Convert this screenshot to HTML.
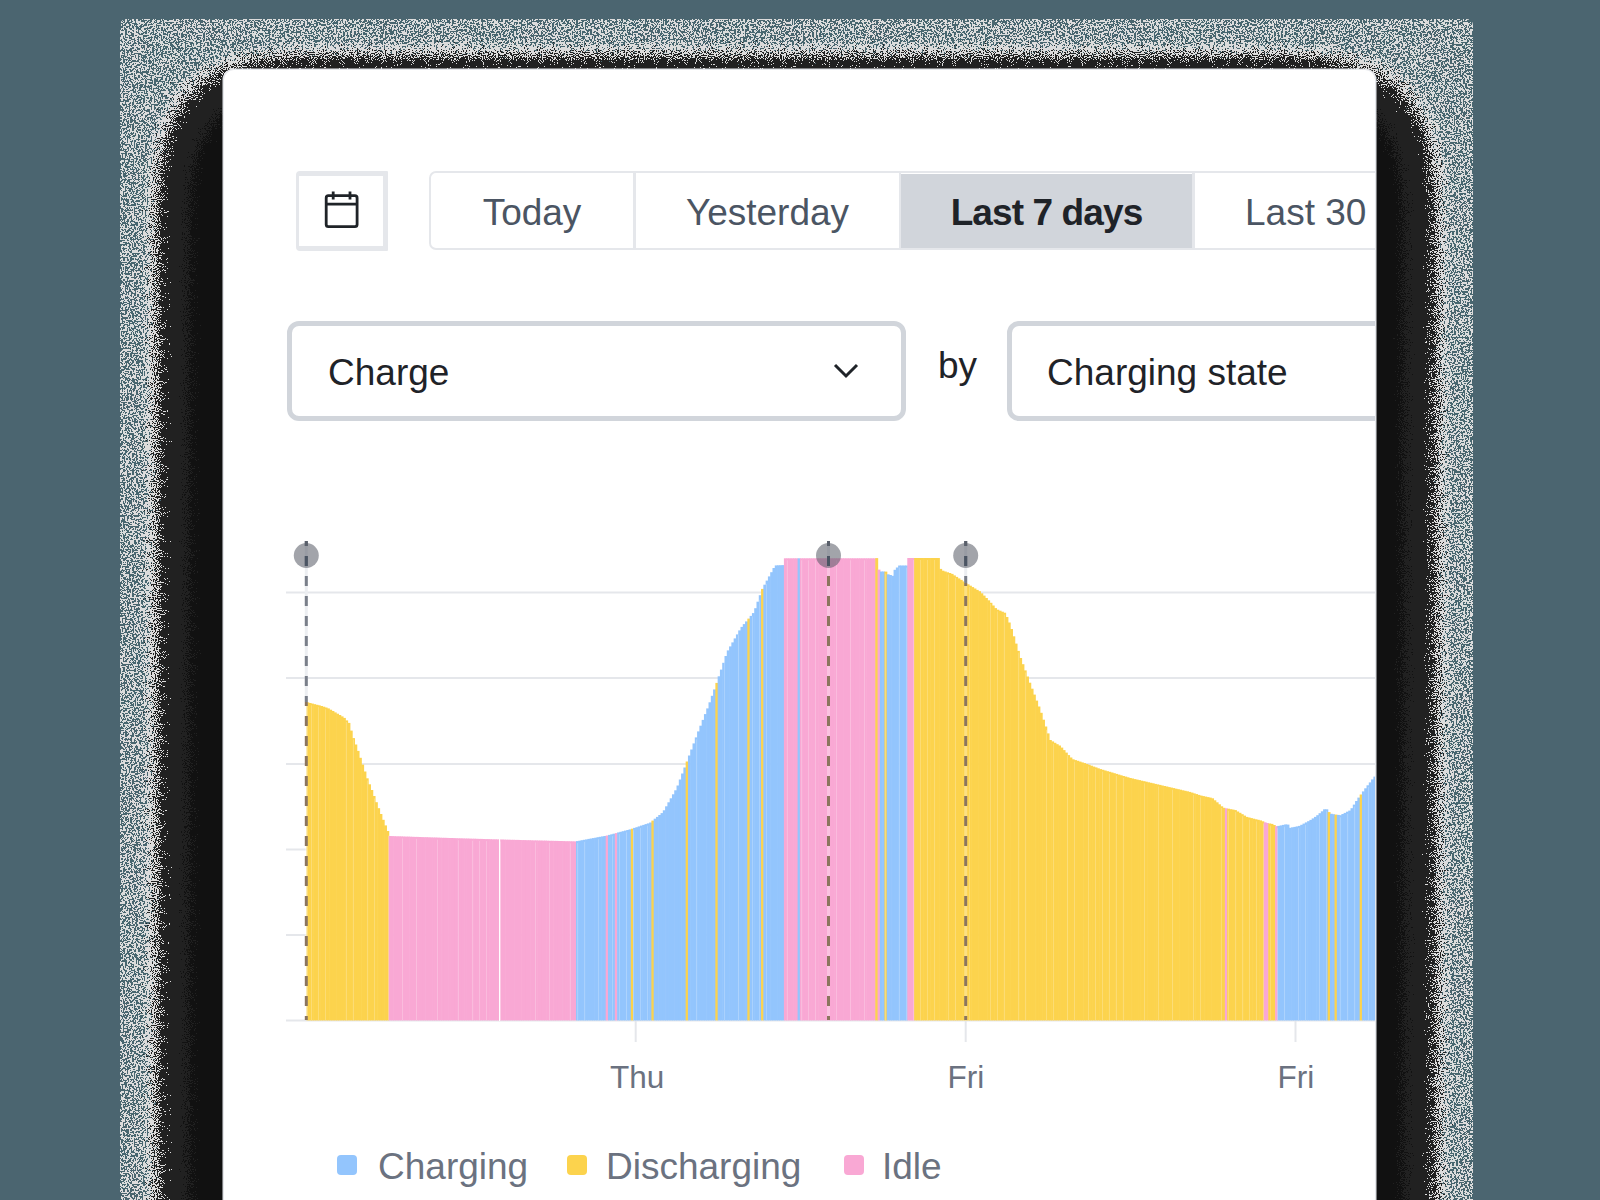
<!DOCTYPE html>
<html><head><meta charset="utf-8">
<style>
html,body{margin:0;padding:0}
body{width:1600px;height:1200px;overflow:hidden;background:#4b6570;position:relative;font-family:"Liberation Sans",sans-serif}
.abs{position:absolute}
#noise{left:120px;top:19px;width:1353px;height:1181px;border-radius:6px 6px 0 0;background:#48666f;overflow:hidden}
#card{left:224px;top:70px;width:1151px;height:1200px;background:#fff;border-radius:10px;overflow:hidden;box-shadow:0 0 0 1.5px #e5e7eb}
#inner{position:absolute;left:-224px;top:-70px;width:1600px;height:1200px}
#cal{left:296px;top:171px;width:84px;height:70px;border-style:solid;border-color:#e5e7eb;border-width:5px 5px 5px 3px;border-radius:4px 1px 1px 4px;background:#fff}
#seg{left:429px;top:171px;width:1000px;height:75px;border:2.5px solid #e5e7eb;border-radius:7px;background:#fff}
.tab{top:173.5px;height:78px;line-height:78px;font-size:37px;color:#4b5563;text-align:center}
.div{top:173px;width:2.5px;height:76px;background:#e5e7eb}
#sel{left:901px;top:174px;width:291px;height:74px;background:#d1d5db}
.select{top:321px;height:90px;border:5px solid #d1d5db;border-radius:12px;background:#fff}
.big{font-size:37px;color:#1f2328}
.grid{left:286px;width:1100px;height:2px;background:#e5e7eb}
.tick{width:2px;height:21px;top:1021px;background:#e5e7eb}
.xl{top:1059px;font-size:31.5px;color:#6b7280}
.leg{top:1146px;font-size:37px;color:#6b7280}
.sw{top:1155px;width:20px;height:20px;border-radius:4px}
</style></head><body>
<div id="noise" class="abs"><svg class="abs" style="left:0;top:0" width="1353" height="1181">
<defs>
<filter id="fs" x="0" y="0" width="1353" height="1181" filterUnits="userSpaceOnUse" color-interpolation-filters="sRGB">
<feGaussianBlur in="SourceAlpha" stdDeviation="60" result="b"/>
<feColorMatrix in="b" type="matrix" values="0 0 0 1 0  0 0 0 1 0  0 0 0 1 0  0 0 0 0 1" result="bg"/>
<feComponentTransfer in="bg" result="glowf"><feFuncR type="linear" slope="2.2" intercept="-0.66"/><feFuncG type="linear" slope="2.2" intercept="-0.66"/><feFuncB type="linear" slope="2.2" intercept="-0.66"/></feComponentTransfer>
<feTurbulence type="fractalNoise" baseFrequency="0.55" numOctaves="2" seed="4" result="t1"/>
<feColorMatrix in="t1" type="matrix" values="1 0 0 0 0  1 0 0 0 0  1 0 0 0 0  0 0 0 0 1" result="t1g"/>
<feComposite in="t1g" in2="glowf" operator="arithmetic" k1="0" k2="1" k3="1" k4="0"/>
<feColorMatrix type="matrix" values="0 0 0 0 0.863  0 0 0 0 0.863  0 0 0 0 0.863  1 0 0 0 0"/>
<feComponentTransfer result="gray"><feFuncA type="discrete" tableValues="0 0 0 0 0 0 0 0 0 0 0 0 0 0 0 0 0 0 0 0 0 0 0 0 0 0 0 0 0 0 0 0 0 0 0 0 0 0 0 0 0 0 0 0 0 0 0 0 0 0 0 0 0 0 0 0 0 0 0 0 0 0 0 0 0 0 0 0 0 0 0 0 0 0 0 0 0 0 0 0 0 0 0 0 0 0 0 0 0 0 0 0 0 0 0 0 0 0 0 0 1 1 1 1 1 1 1 1 1 1 1 1 1 1 1 1 1 1 1 1 1 1 1 1 1 1 1 1 1 1 1 1 1 1 1 1 1 1 1 1 1 1 1 1 1 1 1 1 1 1 1 1 1 1 1 1 1 1 1 1 1 1 1 1 1 1 1 1 1 1 1 1 1 1 1 1 1 1 1 1 1 1 1 1 1 1 1 1 1 1 1 1 1 1 1 1 1 1 1 1"/></feComponentTransfer>
<feTurbulence type="fractalNoise" baseFrequency="0.93" numOctaves="1" seed="11" result="t2"/>
<feColorMatrix in="t2" type="matrix" values="1 0 0 0 0  1 0 0 0 0  1 0 0 0 0  0 0 0 0 1" result="tg"/>
<feComposite in="bg" in2="tg" operator="arithmetic" k1="0" k2="1" k3="0.27" k4="-0.135"/>
<feColorMatrix type="matrix" values="1 0 0 0 0  1 0 0 0 0  1 0 0 0 0  0 0 0 0 1"/>
<feComponentTransfer result="col">
<feFuncR type="discrete" tableValues="0.133 0.133 0.133 0.133 0.133 0.133 0.133 0.133 0.133 0.133 0.133 0.133 0.133 0.133 0.133 0.133 0.133 0.133 0.133 0.133 0.133 0.133 0.133 0.133 0.133 0.133 0.133 0.133 0.133 0.133 0.133 0.133 0.133 0.133 0.133 0.133 0.133 0.133 0.133 0.133 0.133 0.133 0.133 0.133 0.133 0.133 0.133 0.133 0.133 0.133 0.133 0.133 0.133 0.133 0.133 0.133 0.133 0.133 0.133 0.133 0.133 0.133 0.133 0.133 0.133 0.133 0.133 0.133 0.133 0.133 0.133 0.133 0.133 0.133 0.133 0.133 0.133 0.133 0.133 0.133 0.133 0.133 0.133 0.133 0.133 0.133 0.133 0.133 0.133 0.133 0.133 0.133 0.133 0.133 0.133 0.133 0.133 0.133 0.133 0.133 0.133 0.133 0.133 0.133 0.133 0.133 0.133 0.133 0.133 0.133 0.133 0.133 0.133 0.133 0.133 0.133 0.133 0.133 0.133 0.133 0.133 0.067 0.067 0.067 0.067 0.067 0.067 0.067 0.067 0.067 0.067 0.067 0.067 0.067 0.067 0.067 0.067 0.067 0.067 0.067 0.067 0.067 0.067 0.067 0.067 0.067 0.067 0.067 0.067 0.067 0.067 0.067 0.067 0.067 0.067 0.067 0.067 0.067 0.067 0.067 0.067 0.067 0.067 0.067 0.067 0.067 0.067 0.067 0.067 0.067 0.067 0.067 0.067 0.067 0.067 0.067 0.067 0.067 0.067 0.067 0.067 0.067 0.067 0.067 0.067 0.067 0.067 0.067 0.067 0.067 0.067 0.067 0.067 0.067 0.067 0.067 0.067 0.067 0.067 0.067"/>
<feFuncG type="discrete" tableValues="0.133 0.133 0.133 0.133 0.133 0.133 0.133 0.133 0.133 0.133 0.133 0.133 0.133 0.133 0.133 0.133 0.133 0.133 0.133 0.133 0.133 0.133 0.133 0.133 0.133 0.133 0.133 0.133 0.133 0.133 0.133 0.133 0.133 0.133 0.133 0.133 0.133 0.133 0.133 0.133 0.133 0.133 0.133 0.133 0.133 0.133 0.133 0.133 0.133 0.133 0.133 0.133 0.133 0.133 0.133 0.133 0.133 0.133 0.133 0.133 0.133 0.133 0.133 0.133 0.133 0.133 0.133 0.133 0.133 0.133 0.133 0.133 0.133 0.133 0.133 0.133 0.133 0.133 0.133 0.133 0.133 0.133 0.133 0.133 0.133 0.133 0.133 0.133 0.133 0.133 0.133 0.133 0.133 0.133 0.133 0.133 0.133 0.133 0.133 0.133 0.133 0.133 0.133 0.133 0.133 0.133 0.133 0.133 0.133 0.133 0.133 0.133 0.133 0.133 0.133 0.133 0.133 0.133 0.133 0.133 0.133 0.067 0.067 0.067 0.067 0.067 0.067 0.067 0.067 0.067 0.067 0.067 0.067 0.067 0.067 0.067 0.067 0.067 0.067 0.067 0.067 0.067 0.067 0.067 0.067 0.067 0.067 0.067 0.067 0.067 0.067 0.067 0.067 0.067 0.067 0.067 0.067 0.067 0.067 0.067 0.067 0.067 0.067 0.067 0.067 0.067 0.067 0.067 0.067 0.067 0.067 0.067 0.067 0.067 0.067 0.067 0.067 0.067 0.067 0.067 0.067 0.067 0.067 0.067 0.067 0.067 0.067 0.067 0.067 0.067 0.067 0.067 0.067 0.067 0.067 0.067 0.067 0.067 0.067 0.067"/>
<feFuncB type="discrete" tableValues="0.133 0.133 0.133 0.133 0.133 0.133 0.133 0.133 0.133 0.133 0.133 0.133 0.133 0.133 0.133 0.133 0.133 0.133 0.133 0.133 0.133 0.133 0.133 0.133 0.133 0.133 0.133 0.133 0.133 0.133 0.133 0.133 0.133 0.133 0.133 0.133 0.133 0.133 0.133 0.133 0.133 0.133 0.133 0.133 0.133 0.133 0.133 0.133 0.133 0.133 0.133 0.133 0.133 0.133 0.133 0.133 0.133 0.133 0.133 0.133 0.133 0.133 0.133 0.133 0.133 0.133 0.133 0.133 0.133 0.133 0.133 0.133 0.133 0.133 0.133 0.133 0.133 0.133 0.133 0.133 0.133 0.133 0.133 0.133 0.133 0.133 0.133 0.133 0.133 0.133 0.133 0.133 0.133 0.133 0.133 0.133 0.133 0.133 0.133 0.133 0.133 0.133 0.133 0.133 0.133 0.133 0.133 0.133 0.133 0.133 0.133 0.133 0.133 0.133 0.133 0.133 0.133 0.133 0.133 0.133 0.133 0.067 0.067 0.067 0.067 0.067 0.067 0.067 0.067 0.067 0.067 0.067 0.067 0.067 0.067 0.067 0.067 0.067 0.067 0.067 0.067 0.067 0.067 0.067 0.067 0.067 0.067 0.067 0.067 0.067 0.067 0.067 0.067 0.067 0.067 0.067 0.067 0.067 0.067 0.067 0.067 0.067 0.067 0.067 0.067 0.067 0.067 0.067 0.067 0.067 0.067 0.067 0.067 0.067 0.067 0.067 0.067 0.067 0.067 0.067 0.067 0.067 0.067 0.067 0.067 0.067 0.067 0.067 0.067 0.067 0.067 0.067 0.067 0.067 0.067 0.067 0.067 0.067 0.067 0.067"/>
</feComponentTransfer>
<feComposite in="bg" in2="tg" operator="arithmetic" k1="0" k2="1" k3="0.36" k4="-0.18"/>
<feColorMatrix type="matrix" values="0 0 0 0 0  0 0 0 0 0  0 0 0 0 0  1 0 0 0 0"/>
<feComponentTransfer result="msk">
<feFuncA type="discrete" tableValues="0 0 0 0 0 0 0 0 0 0 0 0 0 0 0 0 0 0 0 0 0 0 0 0 0 0 0 0 0 0 0 0 0 0 0 0 0 0 0 0 0 0 0 0 0 0 0 0 0 0 0 0 0 0 0 0 0 0 0 0 0 0 0 0 0 0 0 0 0 0 0 0 0 0 0 0 0 0 0 1 1 1 1 1 1 1 1 1 1 1 1 1 1 1 1 1 1 1 1 1 1 1 1 1 1 1 1 1 1 1 1 1 1 1 1 1 1 1 1 1 1 1 1 1 1 1 1 1 1 1 1 1 1 1 1 1 1 1 1 1 1 1 1 1 1 1 1 1 1 1 1 1 1 1 1 1 1 1 1 1 1 1 1 1 1 1 1 1 1 1 1 1 1 1 1 1 1 1 1 1 1 1 1 1 1 1 1 1 1 1 1 1 1 1 1 1 1 1 1 1"/>
</feComponentTransfer>
<feComposite in="col" in2="msk" operator="in" result="shad"/>
<feMerge><feMergeNode in="gray"/><feMergeNode in="shad"/></feMerge>
</filter>
</defs>
<g filter="url(#fs)"><rect x="53" y="53" width="1247" height="2000" fill="#000"/></g>
</svg></div>
<div id="card" class="abs"><div id="inner">
  <div id="cal" class="abs">
    
  </div>
  <div id="seg" class="abs"></div>
  <div id="sel" class="abs"></div>
  <div class="abs div" style="left:633px"></div>
  <div class="abs div" style="left:1192px"></div>
  <div class="abs div" style="left:898.5px"></div>
  <div class="abs tab" style="left:431px;width:202px">Today</div>
  <div class="abs tab" style="left:635px;width:265px">Yesterday</div>
  <div class="abs tab" style="left:900px;width:293px;font-weight:bold;color:#1f2328;letter-spacing:-0.9px">Last 7 days</div>
  <div class="abs tab" style="left:1245px;text-align:left">Last 30</div>

  <div class="abs select" style="left:287px;width:609px"></div>
  <div class="abs big" style="left:328px;top:351.5px">Charge</div>
  <svg class="abs" style="left:830px;top:360px" width="32" height="22" viewBox="0 0 32 22">
    <polyline points="5,5 16,16 27,5" fill="none" stroke="#1f2328" stroke-width="3"/>
  </svg>
  <div class="abs big" style="left:938px;top:345px">by</div>
  <div class="abs select" style="left:1007px;width:500px"></div>
  <div class="abs big" style="left:1047px;top:351.5px">Charging state</div>

  <svg class="abs" style="left:0;top:0" width="1600" height="1200">
    <g fill="#e5e7eb">
      <rect x="286" y="591.5" width="1100" height="2"/>
      <rect x="286" y="677" width="1100" height="2"/>
      <rect x="286" y="763" width="1100" height="2"/>
      <rect x="286" y="848.5" width="1100" height="2"/>
      <rect x="286" y="934" width="1100" height="2"/>
      <rect x="286" y="1019.5" width="1100" height="2"/>
      <rect x="634.7" y="1021" width="2" height="21"/>
      <rect x="964.7" y="1021" width="2" height="21"/>
      <rect x="1294.5" y="1021" width="2" height="21"/>
    </g>
    <g fill="none" stroke="#1f2328" stroke-width="2.8">
      <rect x="326.2" y="195.7" width="30.9" height="30.9" rx="2.2"/>
      <line x1="326" y1="204.2" x2="357" y2="204.2"/>
      <line x1="333.2" y1="191.5" x2="333.2" y2="199.5"/>
      <line x1="350" y1="191.5" x2="350" y2="199.5"/>
    </g>
    <g>
<rect x="306.40" y="702.4" width="2.885" height="318.0" fill="#fcd34d"/>
<rect x="308.68" y="703.0" width="2.885" height="317.4" fill="#fcd34d"/>
<rect x="310.97" y="703.6" width="2.885" height="316.8" fill="#fcd34d"/>
<rect x="313.25" y="704.2" width="2.885" height="316.2" fill="#fcd34d"/>
<rect x="315.54" y="704.8" width="2.885" height="315.6" fill="#fcd34d"/>
<rect x="317.82" y="705.3" width="2.885" height="315.1" fill="#fcd34d"/>
<rect x="320.11" y="706.0" width="2.885" height="314.4" fill="#fcd34d"/>
<rect x="322.39" y="706.7" width="2.885" height="313.7" fill="#fcd34d"/>
<rect x="324.68" y="707.5" width="2.885" height="312.9" fill="#fcd34d"/>
<rect x="326.96" y="708.4" width="2.885" height="312.0" fill="#fcd34d"/>
<rect x="329.25" y="709.7" width="2.885" height="310.7" fill="#fcd34d"/>
<rect x="331.53" y="711.0" width="2.885" height="309.4" fill="#fcd34d"/>
<rect x="333.82" y="712.4" width="2.885" height="308.0" fill="#fcd34d"/>
<rect x="336.10" y="713.7" width="2.885" height="306.7" fill="#fcd34d"/>
<rect x="338.39" y="715.0" width="2.885" height="305.4" fill="#fcd34d"/>
<rect x="340.67" y="716.4" width="2.885" height="304.0" fill="#fcd34d"/>
<rect x="342.96" y="717.9" width="2.885" height="302.5" fill="#fcd34d"/>
<rect x="345.24" y="720.4" width="2.885" height="300.0" fill="#fcd34d"/>
<rect x="347.52" y="722.9" width="2.885" height="297.5" fill="#fcd34d"/>
<rect x="349.81" y="730.6" width="2.885" height="289.8" fill="#fcd34d"/>
<rect x="352.09" y="738.1" width="2.885" height="282.3" fill="#fcd34d"/>
<rect x="354.38" y="744.5" width="2.885" height="275.9" fill="#fcd34d"/>
<rect x="356.66" y="750.9" width="2.885" height="269.5" fill="#fcd34d"/>
<rect x="358.95" y="757.8" width="2.885" height="262.6" fill="#fcd34d"/>
<rect x="361.23" y="764.6" width="2.885" height="255.8" fill="#fcd34d"/>
<rect x="363.52" y="771.5" width="2.885" height="248.9" fill="#fcd34d"/>
<rect x="365.80" y="778.3" width="2.885" height="242.1" fill="#fcd34d"/>
<rect x="368.09" y="784.3" width="2.885" height="236.1" fill="#fcd34d"/>
<rect x="370.37" y="790.0" width="2.885" height="230.4" fill="#fcd34d"/>
<rect x="372.66" y="796.0" width="2.885" height="224.4" fill="#fcd34d"/>
<rect x="374.94" y="802.2" width="2.885" height="218.2" fill="#fcd34d"/>
<rect x="377.23" y="808.2" width="2.885" height="212.2" fill="#fcd34d"/>
<rect x="379.51" y="814.0" width="2.885" height="206.4" fill="#fcd34d"/>
<rect x="381.80" y="819.8" width="2.885" height="200.6" fill="#fcd34d"/>
<rect x="384.08" y="825.4" width="2.885" height="195.0" fill="#fcd34d"/>
<rect x="386.37" y="831.0" width="2.885" height="189.4" fill="#fcd34d"/>
<rect x="388.65" y="836.0" width="2.885" height="184.4" fill="#f9a8d4"/>
<rect x="390.93" y="836.1" width="2.885" height="184.3" fill="#f9a8d4"/>
<rect x="393.22" y="836.2" width="2.885" height="184.2" fill="#f9a8d4"/>
<rect x="395.50" y="836.3" width="2.885" height="184.1" fill="#f9a8d4"/>
<rect x="397.79" y="836.3" width="2.885" height="184.1" fill="#f9a8d4"/>
<rect x="400.07" y="836.4" width="2.885" height="184.0" fill="#f9a8d4"/>
<rect x="402.36" y="836.5" width="2.885" height="183.9" fill="#f9a8d4"/>
<rect x="404.64" y="836.6" width="2.885" height="183.8" fill="#f9a8d4"/>
<rect x="406.93" y="836.6" width="2.885" height="183.8" fill="#f9a8d4"/>
<rect x="409.21" y="836.7" width="2.885" height="183.7" fill="#f9a8d4"/>
<rect x="411.50" y="836.8" width="2.885" height="183.6" fill="#f9a8d4"/>
<rect x="413.78" y="836.9" width="2.885" height="183.5" fill="#f9a8d4"/>
<rect x="416.07" y="836.9" width="2.885" height="183.5" fill="#f9a8d4"/>
<rect x="418.35" y="837.0" width="2.885" height="183.4" fill="#f9a8d4"/>
<rect x="420.64" y="837.1" width="2.885" height="183.3" fill="#f9a8d4"/>
<rect x="422.92" y="837.2" width="2.885" height="183.2" fill="#f9a8d4"/>
<rect x="425.21" y="837.2" width="2.885" height="183.2" fill="#f9a8d4"/>
<rect x="427.49" y="837.3" width="2.885" height="183.1" fill="#f9a8d4"/>
<rect x="429.77" y="837.4" width="2.885" height="183.0" fill="#f9a8d4"/>
<rect x="432.06" y="837.5" width="2.885" height="182.9" fill="#f9a8d4"/>
<rect x="434.34" y="837.5" width="2.885" height="182.9" fill="#f9a8d4"/>
<rect x="436.63" y="837.6" width="2.885" height="182.8" fill="#f9a8d4"/>
<rect x="438.91" y="837.7" width="2.885" height="182.7" fill="#f9a8d4"/>
<rect x="441.20" y="837.8" width="2.885" height="182.6" fill="#f9a8d4"/>
<rect x="443.48" y="837.8" width="2.885" height="182.6" fill="#f9a8d4"/>
<rect x="445.77" y="837.9" width="2.885" height="182.5" fill="#f9a8d4"/>
<rect x="448.05" y="838.0" width="2.885" height="182.4" fill="#f9a8d4"/>
<rect x="450.34" y="838.0" width="2.885" height="182.4" fill="#f9a8d4"/>
<rect x="452.62" y="838.1" width="2.885" height="182.3" fill="#f9a8d4"/>
<rect x="454.91" y="838.2" width="2.885" height="182.2" fill="#f9a8d4"/>
<rect x="457.19" y="838.3" width="2.885" height="182.1" fill="#f9a8d4"/>
<rect x="459.48" y="838.3" width="2.885" height="182.1" fill="#f9a8d4"/>
<rect x="461.76" y="838.4" width="2.885" height="182.0" fill="#f9a8d4"/>
<rect x="464.05" y="838.5" width="2.885" height="181.9" fill="#f9a8d4"/>
<rect x="466.33" y="838.5" width="2.885" height="181.9" fill="#f9a8d4"/>
<rect x="468.62" y="838.6" width="2.885" height="181.8" fill="#f9a8d4"/>
<rect x="470.90" y="838.7" width="2.885" height="181.7" fill="#f9a8d4"/>
<rect x="473.18" y="838.7" width="2.885" height="181.7" fill="#f9a8d4"/>
<rect x="475.47" y="838.8" width="2.885" height="181.6" fill="#f9a8d4"/>
<rect x="477.75" y="838.9" width="2.885" height="181.5" fill="#f9a8d4"/>
<rect x="480.04" y="838.9" width="2.885" height="181.5" fill="#f9a8d4"/>
<rect x="482.32" y="839.0" width="2.885" height="181.4" fill="#f9a8d4"/>
<rect x="484.61" y="839.1" width="2.885" height="181.3" fill="#f9a8d4"/>
<rect x="486.89" y="839.1" width="2.885" height="181.3" fill="#f9a8d4"/>
<rect x="489.18" y="839.2" width="2.885" height="181.2" fill="#f9a8d4"/>
<rect x="491.46" y="839.3" width="2.885" height="181.1" fill="#f9a8d4"/>
<rect x="493.75" y="839.3" width="2.885" height="181.1" fill="#f9a8d4"/>
<rect x="496.03" y="839.4" width="2.885" height="181.0" fill="#f9a8d4"/>
<rect x="498.32" y="839.5" width="2.885" height="180.9" fill="#f9a8d4"/>
<rect x="500.60" y="839.5" width="2.885" height="180.9" fill="#f9a8d4"/>
<rect x="502.89" y="839.6" width="2.885" height="180.8" fill="#f9a8d4"/>
<rect x="505.17" y="839.7" width="2.885" height="180.7" fill="#f9a8d4"/>
<rect x="507.46" y="839.7" width="2.885" height="180.7" fill="#f9a8d4"/>
<rect x="509.74" y="839.8" width="2.885" height="180.6" fill="#f9a8d4"/>
<rect x="512.02" y="839.8" width="2.885" height="180.6" fill="#f9a8d4"/>
<rect x="514.31" y="839.9" width="2.885" height="180.5" fill="#f9a8d4"/>
<rect x="516.59" y="839.9" width="2.885" height="180.5" fill="#f9a8d4"/>
<rect x="518.88" y="840.0" width="2.885" height="180.4" fill="#f9a8d4"/>
<rect x="521.16" y="840.1" width="2.885" height="180.3" fill="#f9a8d4"/>
<rect x="523.45" y="840.1" width="2.885" height="180.3" fill="#f9a8d4"/>
<rect x="525.73" y="840.2" width="2.885" height="180.2" fill="#f9a8d4"/>
<rect x="528.02" y="840.2" width="2.885" height="180.2" fill="#f9a8d4"/>
<rect x="530.30" y="840.3" width="2.885" height="180.1" fill="#f9a8d4"/>
<rect x="532.59" y="840.4" width="2.885" height="180.0" fill="#f9a8d4"/>
<rect x="534.87" y="840.4" width="2.885" height="180.0" fill="#f9a8d4"/>
<rect x="537.16" y="840.5" width="2.885" height="179.9" fill="#f9a8d4"/>
<rect x="539.44" y="840.5" width="2.885" height="179.9" fill="#f9a8d4"/>
<rect x="541.73" y="840.6" width="2.885" height="179.8" fill="#f9a8d4"/>
<rect x="544.01" y="840.6" width="2.885" height="179.8" fill="#f9a8d4"/>
<rect x="546.30" y="840.7" width="2.885" height="179.7" fill="#f9a8d4"/>
<rect x="548.58" y="840.8" width="2.885" height="179.6" fill="#f9a8d4"/>
<rect x="550.87" y="840.8" width="2.885" height="179.6" fill="#f9a8d4"/>
<rect x="553.15" y="840.9" width="2.885" height="179.5" fill="#f9a8d4"/>
<rect x="555.43" y="840.9" width="2.885" height="179.5" fill="#f9a8d4"/>
<rect x="557.72" y="841.0" width="2.885" height="179.4" fill="#f9a8d4"/>
<rect x="560.00" y="841.0" width="2.885" height="179.4" fill="#f9a8d4"/>
<rect x="562.29" y="841.1" width="2.885" height="179.3" fill="#f9a8d4"/>
<rect x="564.57" y="841.2" width="2.885" height="179.2" fill="#f9a8d4"/>
<rect x="566.86" y="841.2" width="2.885" height="179.2" fill="#f9a8d4"/>
<rect x="569.14" y="841.3" width="2.885" height="179.1" fill="#f9a8d4"/>
<rect x="571.43" y="841.3" width="2.885" height="179.1" fill="#f9a8d4"/>
<rect x="573.71" y="841.4" width="2.885" height="179.0" fill="#f9a8d4"/>
<rect x="576.00" y="841.1" width="2.885" height="179.3" fill="#93c5fd"/>
<rect x="578.28" y="840.7" width="2.885" height="179.7" fill="#93c5fd"/>
<rect x="580.57" y="840.2" width="2.885" height="180.2" fill="#93c5fd"/>
<rect x="582.85" y="839.8" width="2.885" height="180.6" fill="#93c5fd"/>
<rect x="585.14" y="839.4" width="2.885" height="181.0" fill="#93c5fd"/>
<rect x="587.42" y="838.9" width="2.885" height="181.5" fill="#93c5fd"/>
<rect x="589.71" y="838.5" width="2.885" height="181.9" fill="#93c5fd"/>
<rect x="591.99" y="838.1" width="2.885" height="182.3" fill="#93c5fd"/>
<rect x="594.27" y="837.7" width="2.885" height="182.7" fill="#93c5fd"/>
<rect x="596.56" y="837.2" width="2.885" height="183.2" fill="#93c5fd"/>
<rect x="598.84" y="836.8" width="2.885" height="183.6" fill="#93c5fd"/>
<rect x="601.13" y="836.4" width="2.885" height="184.0" fill="#93c5fd"/>
<rect x="603.41" y="836.0" width="2.885" height="184.4" fill="#93c5fd"/>
<rect x="605.70" y="835.5" width="2.885" height="184.9" fill="#f9a8d4"/>
<rect x="607.98" y="834.9" width="2.885" height="185.5" fill="#93c5fd"/>
<rect x="610.27" y="834.3" width="2.885" height="186.1" fill="#93c5fd"/>
<rect x="612.55" y="833.7" width="2.885" height="186.7" fill="#93c5fd"/>
<rect x="614.84" y="833.1" width="2.885" height="187.3" fill="#f9a8d4"/>
<rect x="617.12" y="832.4" width="2.885" height="188.0" fill="#93c5fd"/>
<rect x="619.41" y="831.8" width="2.885" height="188.6" fill="#93c5fd"/>
<rect x="621.69" y="831.2" width="2.885" height="189.2" fill="#93c5fd"/>
<rect x="623.98" y="830.6" width="2.885" height="189.8" fill="#93c5fd"/>
<rect x="626.26" y="830.0" width="2.885" height="190.4" fill="#93c5fd"/>
<rect x="628.55" y="829.4" width="2.885" height="191.0" fill="#93c5fd"/>
<rect x="630.83" y="828.7" width="2.885" height="191.7" fill="#fcd34d"/>
<rect x="633.12" y="827.9" width="2.885" height="192.5" fill="#93c5fd"/>
<rect x="635.40" y="827.2" width="2.885" height="193.2" fill="#93c5fd"/>
<rect x="637.68" y="826.4" width="2.885" height="194.0" fill="#93c5fd"/>
<rect x="639.97" y="825.6" width="2.885" height="194.8" fill="#93c5fd"/>
<rect x="642.25" y="824.9" width="2.885" height="195.5" fill="#93c5fd"/>
<rect x="644.54" y="824.1" width="2.885" height="196.3" fill="#93c5fd"/>
<rect x="646.82" y="823.4" width="2.885" height="197.0" fill="#93c5fd"/>
<rect x="649.11" y="822.5" width="2.885" height="197.9" fill="#93c5fd"/>
<rect x="651.39" y="820.6" width="2.885" height="199.8" fill="#fcd34d"/>
<rect x="653.68" y="818.7" width="2.885" height="201.7" fill="#93c5fd"/>
<rect x="655.96" y="816.9" width="2.885" height="203.5" fill="#93c5fd"/>
<rect x="658.25" y="815.0" width="2.885" height="205.4" fill="#93c5fd"/>
<rect x="660.53" y="813.1" width="2.885" height="207.3" fill="#93c5fd"/>
<rect x="662.82" y="810.3" width="2.885" height="210.1" fill="#93c5fd"/>
<rect x="665.10" y="806.3" width="2.885" height="214.1" fill="#93c5fd"/>
<rect x="667.39" y="802.3" width="2.885" height="218.1" fill="#93c5fd"/>
<rect x="669.67" y="798.3" width="2.885" height="222.1" fill="#93c5fd"/>
<rect x="671.96" y="794.3" width="2.885" height="226.1" fill="#93c5fd"/>
<rect x="674.24" y="790.3" width="2.885" height="230.1" fill="#93c5fd"/>
<rect x="676.52" y="785.5" width="2.885" height="234.9" fill="#93c5fd"/>
<rect x="678.81" y="779.5" width="2.885" height="240.9" fill="#93c5fd"/>
<rect x="681.09" y="773.5" width="2.885" height="246.9" fill="#93c5fd"/>
<rect x="683.38" y="767.5" width="2.885" height="252.9" fill="#93c5fd"/>
<rect x="685.66" y="761.5" width="2.885" height="258.9" fill="#fcd34d"/>
<rect x="687.95" y="755.5" width="2.885" height="264.9" fill="#93c5fd"/>
<rect x="690.23" y="749.5" width="2.885" height="270.9" fill="#93c5fd"/>
<rect x="692.52" y="743.4" width="2.885" height="277.0" fill="#93c5fd"/>
<rect x="694.80" y="737.4" width="2.885" height="283.0" fill="#93c5fd"/>
<rect x="697.09" y="731.4" width="2.885" height="289.0" fill="#93c5fd"/>
<rect x="699.37" y="725.7" width="2.885" height="294.7" fill="#93c5fd"/>
<rect x="701.66" y="719.9" width="2.885" height="300.5" fill="#93c5fd"/>
<rect x="703.94" y="714.1" width="2.885" height="306.3" fill="#93c5fd"/>
<rect x="706.23" y="708.4" width="2.885" height="312.0" fill="#93c5fd"/>
<rect x="708.51" y="702.3" width="2.885" height="318.1" fill="#93c5fd"/>
<rect x="710.80" y="695.8" width="2.885" height="324.6" fill="#93c5fd"/>
<rect x="713.08" y="689.4" width="2.885" height="331.0" fill="#93c5fd"/>
<rect x="715.37" y="682.9" width="2.885" height="337.5" fill="#fcd34d"/>
<rect x="717.65" y="676.3" width="2.885" height="344.1" fill="#93c5fd"/>
<rect x="719.93" y="669.6" width="2.885" height="350.8" fill="#93c5fd"/>
<rect x="722.22" y="662.8" width="2.885" height="357.6" fill="#93c5fd"/>
<rect x="724.50" y="656.0" width="2.885" height="364.4" fill="#93c5fd"/>
<rect x="726.79" y="650.4" width="2.885" height="370.0" fill="#93c5fd"/>
<rect x="729.07" y="646.4" width="2.885" height="374.0" fill="#93c5fd"/>
<rect x="731.36" y="642.4" width="2.885" height="378.0" fill="#93c5fd"/>
<rect x="733.64" y="638.4" width="2.885" height="382.0" fill="#93c5fd"/>
<rect x="735.93" y="634.4" width="2.885" height="386.0" fill="#93c5fd"/>
<rect x="738.21" y="630.4" width="2.885" height="390.0" fill="#93c5fd"/>
<rect x="740.50" y="626.9" width="2.885" height="393.5" fill="#93c5fd"/>
<rect x="742.78" y="624.1" width="2.885" height="396.3" fill="#93c5fd"/>
<rect x="745.07" y="621.4" width="2.885" height="399.0" fill="#93c5fd"/>
<rect x="747.35" y="618.6" width="2.885" height="401.8" fill="#fcd34d"/>
<rect x="749.64" y="615.9" width="2.885" height="404.5" fill="#93c5fd"/>
<rect x="751.92" y="613.1" width="2.885" height="407.3" fill="#93c5fd"/>
<rect x="754.21" y="608.2" width="2.885" height="412.2" fill="#93c5fd"/>
<rect x="756.49" y="601.7" width="2.885" height="418.7" fill="#93c5fd"/>
<rect x="758.77" y="595.2" width="2.885" height="425.2" fill="#93c5fd"/>
<rect x="761.06" y="588.9" width="2.885" height="431.5" fill="#fcd34d"/>
<rect x="763.34" y="584.7" width="2.885" height="435.7" fill="#93c5fd"/>
<rect x="765.63" y="580.6" width="2.885" height="439.8" fill="#93c5fd"/>
<rect x="767.91" y="576.4" width="2.885" height="444.0" fill="#93c5fd"/>
<rect x="770.20" y="572.2" width="2.885" height="448.2" fill="#93c5fd"/>
<rect x="772.48" y="568.0" width="2.885" height="452.4" fill="#93c5fd"/>
<rect x="774.77" y="565.4" width="2.885" height="455.0" fill="#93c5fd"/>
<rect x="777.05" y="565.3" width="2.885" height="455.1" fill="#93c5fd"/>
<rect x="779.34" y="565.2" width="2.885" height="455.2" fill="#93c5fd"/>
<rect x="781.62" y="565.1" width="2.885" height="455.3" fill="#93c5fd"/>
<rect x="783.91" y="558.3" width="2.885" height="462.1" fill="#f9a8d4"/>
<rect x="786.19" y="558.3" width="2.885" height="462.1" fill="#f9a8d4"/>
<rect x="788.48" y="558.3" width="2.885" height="462.1" fill="#f9a8d4"/>
<rect x="790.76" y="558.3" width="2.885" height="462.1" fill="#f9a8d4"/>
<rect x="793.05" y="558.3" width="2.885" height="462.1" fill="#f9a8d4"/>
<rect x="795.33" y="558.3" width="2.885" height="462.1" fill="#f9a8d4"/>
<rect x="797.62" y="558.3" width="2.885" height="462.1" fill="#93c5fd"/>
<rect x="799.90" y="558.3" width="2.885" height="462.1" fill="#f9a8d4"/>
<rect x="802.18" y="558.3" width="2.885" height="462.1" fill="#f9a8d4"/>
<rect x="804.47" y="558.3" width="2.885" height="462.1" fill="#f9a8d4"/>
<rect x="806.75" y="558.3" width="2.885" height="462.1" fill="#f9a8d4"/>
<rect x="809.04" y="558.3" width="2.885" height="462.1" fill="#f9a8d4"/>
<rect x="811.32" y="558.3" width="2.885" height="462.1" fill="#f9a8d4"/>
<rect x="813.61" y="558.3" width="2.885" height="462.1" fill="#f9a8d4"/>
<rect x="815.89" y="558.3" width="2.885" height="462.1" fill="#f9a8d4"/>
<rect x="818.18" y="558.3" width="2.885" height="462.1" fill="#f9a8d4"/>
<rect x="820.46" y="558.3" width="2.885" height="462.1" fill="#f9a8d4"/>
<rect x="822.75" y="558.3" width="2.885" height="462.1" fill="#f9a8d4"/>
<rect x="825.03" y="558.3" width="2.885" height="462.1" fill="#f9a8d4"/>
<rect x="827.32" y="558.3" width="2.885" height="462.1" fill="#f9a8d4"/>
<rect x="829.60" y="558.3" width="2.885" height="462.1" fill="#f9a8d4"/>
<rect x="831.89" y="558.3" width="2.885" height="462.1" fill="#f9a8d4"/>
<rect x="834.17" y="558.3" width="2.885" height="462.1" fill="#f9a8d4"/>
<rect x="836.46" y="558.3" width="2.885" height="462.1" fill="#f9a8d4"/>
<rect x="838.74" y="558.3" width="2.885" height="462.1" fill="#f9a8d4"/>
<rect x="841.02" y="558.3" width="2.885" height="462.1" fill="#f9a8d4"/>
<rect x="843.31" y="558.3" width="2.885" height="462.1" fill="#f9a8d4"/>
<rect x="845.59" y="558.3" width="2.885" height="462.1" fill="#f9a8d4"/>
<rect x="847.88" y="558.3" width="2.885" height="462.1" fill="#f9a8d4"/>
<rect x="850.16" y="558.3" width="2.885" height="462.1" fill="#f9a8d4"/>
<rect x="852.45" y="558.3" width="2.885" height="462.1" fill="#f9a8d4"/>
<rect x="854.73" y="558.3" width="2.885" height="462.1" fill="#f9a8d4"/>
<rect x="857.02" y="558.3" width="2.885" height="462.1" fill="#f9a8d4"/>
<rect x="859.30" y="558.3" width="2.885" height="462.1" fill="#f9a8d4"/>
<rect x="861.59" y="558.3" width="2.885" height="462.1" fill="#f9a8d4"/>
<rect x="863.87" y="558.3" width="2.885" height="462.1" fill="#f9a8d4"/>
<rect x="866.16" y="558.3" width="2.885" height="462.1" fill="#f9a8d4"/>
<rect x="868.44" y="558.3" width="2.885" height="462.1" fill="#f9a8d4"/>
<rect x="870.73" y="558.3" width="2.885" height="462.1" fill="#f9a8d4"/>
<rect x="873.01" y="558.3" width="2.885" height="462.1" fill="#f9a8d4"/>
<rect x="875.30" y="558.1" width="2.885" height="462.3" fill="#fcd34d"/>
<rect x="877.58" y="569.6" width="2.885" height="450.8" fill="#f9a8d4"/>
<rect x="879.87" y="571.5" width="2.885" height="448.9" fill="#93c5fd"/>
<rect x="882.15" y="571.5" width="2.885" height="448.9" fill="#93c5fd"/>
<rect x="884.43" y="571.6" width="2.885" height="448.8" fill="#fcd34d"/>
<rect x="886.72" y="574.3" width="2.885" height="446.1" fill="#93c5fd"/>
<rect x="889.00" y="575.0" width="2.885" height="445.4" fill="#93c5fd"/>
<rect x="891.29" y="575.8" width="2.885" height="444.6" fill="#93c5fd"/>
<rect x="893.57" y="569.8" width="2.885" height="450.6" fill="#93c5fd"/>
<rect x="895.86" y="567.5" width="2.885" height="452.9" fill="#93c5fd"/>
<rect x="898.14" y="565.5" width="2.885" height="454.9" fill="#93c5fd"/>
<rect x="900.43" y="565.5" width="2.885" height="454.9" fill="#93c5fd"/>
<rect x="902.71" y="565.5" width="2.885" height="454.9" fill="#93c5fd"/>
<rect x="905.00" y="565.5" width="2.885" height="454.9" fill="#93c5fd"/>
<rect x="907.28" y="558.0" width="2.885" height="462.4" fill="#f9a8d4"/>
<rect x="909.57" y="558.0" width="2.885" height="462.4" fill="#f9a8d4"/>
<rect x="911.85" y="558.0" width="2.885" height="462.4" fill="#f9a8d4"/>
<rect x="914.14" y="558.0" width="2.885" height="462.4" fill="#fcd34d"/>
<rect x="916.42" y="558.0" width="2.885" height="462.4" fill="#fcd34d"/>
<rect x="918.71" y="558.0" width="2.885" height="462.4" fill="#fcd34d"/>
<rect x="920.99" y="558.0" width="2.885" height="462.4" fill="#fcd34d"/>
<rect x="923.27" y="558.0" width="2.885" height="462.4" fill="#fcd34d"/>
<rect x="925.56" y="558.0" width="2.885" height="462.4" fill="#fcd34d"/>
<rect x="927.84" y="558.0" width="2.885" height="462.4" fill="#fcd34d"/>
<rect x="930.13" y="558.0" width="2.885" height="462.4" fill="#fcd34d"/>
<rect x="932.41" y="558.0" width="2.885" height="462.4" fill="#fcd34d"/>
<rect x="934.70" y="558.0" width="2.885" height="462.4" fill="#fcd34d"/>
<rect x="936.98" y="558.0" width="2.885" height="462.4" fill="#fcd34d"/>
<rect x="939.27" y="568.9" width="2.885" height="451.5" fill="#fcd34d"/>
<rect x="941.55" y="570.7" width="2.885" height="449.7" fill="#fcd34d"/>
<rect x="943.84" y="571.5" width="2.885" height="448.9" fill="#fcd34d"/>
<rect x="946.12" y="572.3" width="2.885" height="448.1" fill="#fcd34d"/>
<rect x="948.41" y="573.0" width="2.885" height="447.4" fill="#fcd34d"/>
<rect x="950.69" y="573.9" width="2.885" height="446.5" fill="#fcd34d"/>
<rect x="952.98" y="575.4" width="2.885" height="445.0" fill="#fcd34d"/>
<rect x="955.26" y="576.9" width="2.885" height="443.5" fill="#fcd34d"/>
<rect x="957.55" y="578.4" width="2.885" height="442.0" fill="#fcd34d"/>
<rect x="959.83" y="579.9" width="2.885" height="440.5" fill="#fcd34d"/>
<rect x="962.12" y="581.4" width="2.885" height="439.0" fill="#fcd34d"/>
<rect x="964.40" y="582.9" width="2.885" height="437.5" fill="#fcd34d"/>
<rect x="966.68" y="584.3" width="2.885" height="436.1" fill="#fcd34d"/>
<rect x="968.97" y="585.7" width="2.885" height="434.7" fill="#fcd34d"/>
<rect x="971.25" y="587.1" width="2.885" height="433.3" fill="#fcd34d"/>
<rect x="973.54" y="588.5" width="2.885" height="431.9" fill="#fcd34d"/>
<rect x="975.82" y="589.9" width="2.885" height="430.5" fill="#fcd34d"/>
<rect x="978.11" y="591.2" width="2.885" height="429.2" fill="#fcd34d"/>
<rect x="980.39" y="593.3" width="2.885" height="427.1" fill="#fcd34d"/>
<rect x="982.68" y="595.6" width="2.885" height="424.8" fill="#fcd34d"/>
<rect x="984.96" y="598.0" width="2.885" height="422.4" fill="#fcd34d"/>
<rect x="987.25" y="600.3" width="2.885" height="420.1" fill="#fcd34d"/>
<rect x="989.53" y="602.8" width="2.885" height="417.6" fill="#fcd34d"/>
<rect x="991.82" y="605.5" width="2.885" height="414.9" fill="#fcd34d"/>
<rect x="994.10" y="608.1" width="2.885" height="412.3" fill="#fcd34d"/>
<rect x="996.39" y="609.7" width="2.885" height="410.7" fill="#fcd34d"/>
<rect x="998.67" y="610.7" width="2.885" height="409.7" fill="#fcd34d"/>
<rect x="1000.96" y="611.7" width="2.885" height="408.7" fill="#fcd34d"/>
<rect x="1003.24" y="612.7" width="2.885" height="407.7" fill="#fcd34d"/>
<rect x="1005.52" y="617.0" width="2.885" height="403.4" fill="#fcd34d"/>
<rect x="1007.81" y="622.5" width="2.885" height="397.9" fill="#fcd34d"/>
<rect x="1010.09" y="629.0" width="2.885" height="391.4" fill="#fcd34d"/>
<rect x="1012.38" y="636.3" width="2.885" height="384.1" fill="#fcd34d"/>
<rect x="1014.66" y="643.6" width="2.885" height="376.8" fill="#fcd34d"/>
<rect x="1016.95" y="650.9" width="2.885" height="369.5" fill="#fcd34d"/>
<rect x="1019.23" y="658.0" width="2.885" height="362.4" fill="#fcd34d"/>
<rect x="1021.52" y="664.2" width="2.885" height="356.2" fill="#fcd34d"/>
<rect x="1023.80" y="670.4" width="2.885" height="350.0" fill="#fcd34d"/>
<rect x="1026.09" y="676.5" width="2.885" height="343.9" fill="#fcd34d"/>
<rect x="1028.37" y="682.7" width="2.885" height="337.7" fill="#fcd34d"/>
<rect x="1030.66" y="688.7" width="2.885" height="331.7" fill="#fcd34d"/>
<rect x="1032.94" y="694.6" width="2.885" height="325.8" fill="#fcd34d"/>
<rect x="1035.23" y="700.6" width="2.885" height="319.8" fill="#fcd34d"/>
<rect x="1037.51" y="706.5" width="2.885" height="313.9" fill="#fcd34d"/>
<rect x="1039.80" y="712.8" width="2.885" height="307.6" fill="#fcd34d"/>
<rect x="1042.08" y="719.7" width="2.885" height="300.7" fill="#fcd34d"/>
<rect x="1044.37" y="726.5" width="2.885" height="293.9" fill="#fcd34d"/>
<rect x="1046.65" y="733.4" width="2.885" height="287.0" fill="#fcd34d"/>
<rect x="1048.93" y="740.0" width="2.885" height="280.4" fill="#fcd34d"/>
<rect x="1051.22" y="741.4" width="2.885" height="279.0" fill="#fcd34d"/>
<rect x="1053.50" y="742.8" width="2.885" height="277.6" fill="#fcd34d"/>
<rect x="1055.79" y="744.2" width="2.885" height="276.2" fill="#fcd34d"/>
<rect x="1058.07" y="745.5" width="2.885" height="274.9" fill="#fcd34d"/>
<rect x="1060.36" y="747.6" width="2.885" height="272.8" fill="#fcd34d"/>
<rect x="1062.64" y="750.1" width="2.885" height="270.3" fill="#fcd34d"/>
<rect x="1064.93" y="752.6" width="2.885" height="267.8" fill="#fcd34d"/>
<rect x="1067.21" y="755.1" width="2.885" height="265.3" fill="#fcd34d"/>
<rect x="1069.50" y="757.5" width="2.885" height="262.9" fill="#fcd34d"/>
<rect x="1071.78" y="759.3" width="2.885" height="261.1" fill="#fcd34d"/>
<rect x="1074.07" y="760.1" width="2.885" height="260.3" fill="#fcd34d"/>
<rect x="1076.35" y="760.8" width="2.885" height="259.6" fill="#fcd34d"/>
<rect x="1078.64" y="761.6" width="2.885" height="258.8" fill="#fcd34d"/>
<rect x="1080.92" y="762.4" width="2.885" height="258.0" fill="#fcd34d"/>
<rect x="1083.21" y="763.1" width="2.885" height="257.3" fill="#fcd34d"/>
<rect x="1085.49" y="764.0" width="2.885" height="256.4" fill="#fcd34d"/>
<rect x="1087.78" y="764.8" width="2.885" height="255.6" fill="#fcd34d"/>
<rect x="1090.06" y="765.7" width="2.885" height="254.7" fill="#fcd34d"/>
<rect x="1092.34" y="766.6" width="2.885" height="253.8" fill="#fcd34d"/>
<rect x="1094.63" y="767.4" width="2.885" height="253.0" fill="#fcd34d"/>
<rect x="1096.91" y="768.3" width="2.885" height="252.1" fill="#fcd34d"/>
<rect x="1099.20" y="769.1" width="2.885" height="251.3" fill="#fcd34d"/>
<rect x="1101.48" y="769.8" width="2.885" height="250.6" fill="#fcd34d"/>
<rect x="1103.77" y="770.5" width="2.885" height="249.9" fill="#fcd34d"/>
<rect x="1106.05" y="771.2" width="2.885" height="249.2" fill="#fcd34d"/>
<rect x="1108.34" y="771.8" width="2.885" height="248.6" fill="#fcd34d"/>
<rect x="1110.62" y="772.5" width="2.885" height="247.9" fill="#fcd34d"/>
<rect x="1112.91" y="773.2" width="2.885" height="247.2" fill="#fcd34d"/>
<rect x="1115.19" y="773.9" width="2.885" height="246.5" fill="#fcd34d"/>
<rect x="1117.48" y="774.6" width="2.885" height="245.8" fill="#fcd34d"/>
<rect x="1119.76" y="775.3" width="2.885" height="245.1" fill="#fcd34d"/>
<rect x="1122.05" y="776.0" width="2.885" height="244.4" fill="#fcd34d"/>
<rect x="1124.33" y="776.6" width="2.885" height="243.8" fill="#fcd34d"/>
<rect x="1126.62" y="777.3" width="2.885" height="243.1" fill="#fcd34d"/>
<rect x="1128.90" y="778.0" width="2.885" height="242.4" fill="#fcd34d"/>
<rect x="1131.18" y="778.5" width="2.885" height="241.9" fill="#fcd34d"/>
<rect x="1133.47" y="779.1" width="2.885" height="241.3" fill="#fcd34d"/>
<rect x="1135.75" y="779.6" width="2.885" height="240.8" fill="#fcd34d"/>
<rect x="1138.04" y="780.1" width="2.885" height="240.3" fill="#fcd34d"/>
<rect x="1140.32" y="780.7" width="2.885" height="239.7" fill="#fcd34d"/>
<rect x="1142.61" y="781.2" width="2.885" height="239.2" fill="#fcd34d"/>
<rect x="1144.89" y="781.7" width="2.885" height="238.7" fill="#fcd34d"/>
<rect x="1147.18" y="782.3" width="2.885" height="238.1" fill="#fcd34d"/>
<rect x="1149.46" y="782.8" width="2.885" height="237.6" fill="#fcd34d"/>
<rect x="1151.75" y="783.3" width="2.885" height="237.1" fill="#fcd34d"/>
<rect x="1154.03" y="783.9" width="2.885" height="236.5" fill="#fcd34d"/>
<rect x="1156.32" y="784.4" width="2.885" height="236.0" fill="#fcd34d"/>
<rect x="1158.60" y="784.9" width="2.885" height="235.5" fill="#fcd34d"/>
<rect x="1160.89" y="785.5" width="2.885" height="234.9" fill="#fcd34d"/>
<rect x="1163.17" y="786.0" width="2.885" height="234.4" fill="#fcd34d"/>
<rect x="1165.46" y="786.5" width="2.885" height="233.9" fill="#fcd34d"/>
<rect x="1167.74" y="787.1" width="2.885" height="233.3" fill="#fcd34d"/>
<rect x="1170.03" y="787.6" width="2.885" height="232.8" fill="#fcd34d"/>
<rect x="1172.31" y="788.1" width="2.885" height="232.3" fill="#fcd34d"/>
<rect x="1174.59" y="788.7" width="2.885" height="231.7" fill="#fcd34d"/>
<rect x="1176.88" y="789.2" width="2.885" height="231.2" fill="#fcd34d"/>
<rect x="1179.16" y="789.7" width="2.885" height="230.7" fill="#fcd34d"/>
<rect x="1181.45" y="790.3" width="2.885" height="230.1" fill="#fcd34d"/>
<rect x="1183.73" y="790.8" width="2.885" height="229.6" fill="#fcd34d"/>
<rect x="1186.02" y="791.3" width="2.885" height="229.1" fill="#fcd34d"/>
<rect x="1188.30" y="791.9" width="2.885" height="228.5" fill="#fcd34d"/>
<rect x="1190.59" y="792.6" width="2.885" height="227.8" fill="#fcd34d"/>
<rect x="1192.87" y="793.4" width="2.885" height="227.0" fill="#fcd34d"/>
<rect x="1195.16" y="794.1" width="2.885" height="226.3" fill="#fcd34d"/>
<rect x="1197.44" y="794.9" width="2.885" height="225.5" fill="#fcd34d"/>
<rect x="1199.73" y="795.6" width="2.885" height="224.8" fill="#fcd34d"/>
<rect x="1202.01" y="796.1" width="2.885" height="224.3" fill="#fcd34d"/>
<rect x="1204.30" y="796.6" width="2.885" height="223.8" fill="#fcd34d"/>
<rect x="1206.58" y="797.1" width="2.885" height="223.3" fill="#fcd34d"/>
<rect x="1208.87" y="797.6" width="2.885" height="222.8" fill="#fcd34d"/>
<rect x="1211.15" y="798.3" width="2.885" height="222.1" fill="#fcd34d"/>
<rect x="1213.43" y="800.3" width="2.885" height="220.1" fill="#fcd34d"/>
<rect x="1215.72" y="802.3" width="2.885" height="218.1" fill="#fcd34d"/>
<rect x="1218.00" y="804.3" width="2.885" height="216.1" fill="#fcd34d"/>
<rect x="1220.29" y="806.3" width="2.885" height="214.1" fill="#fcd34d"/>
<rect x="1222.57" y="807.8" width="2.885" height="212.6" fill="#fcd34d"/>
<rect x="1224.86" y="808.3" width="2.885" height="212.1" fill="#f9a8d4"/>
<rect x="1227.14" y="808.7" width="2.885" height="211.7" fill="#fcd34d"/>
<rect x="1229.43" y="809.2" width="2.885" height="211.2" fill="#fcd34d"/>
<rect x="1231.71" y="809.6" width="2.885" height="210.8" fill="#fcd34d"/>
<rect x="1234.00" y="810.1" width="2.885" height="210.3" fill="#fcd34d"/>
<rect x="1236.28" y="811.5" width="2.885" height="208.9" fill="#fcd34d"/>
<rect x="1238.57" y="812.8" width="2.885" height="207.6" fill="#fcd34d"/>
<rect x="1240.85" y="814.2" width="2.885" height="206.2" fill="#fcd34d"/>
<rect x="1243.14" y="815.6" width="2.885" height="204.8" fill="#fcd34d"/>
<rect x="1245.42" y="816.9" width="2.885" height="203.5" fill="#fcd34d"/>
<rect x="1247.71" y="817.5" width="2.885" height="202.9" fill="#fcd34d"/>
<rect x="1249.99" y="818.1" width="2.885" height="202.3" fill="#fcd34d"/>
<rect x="1252.28" y="818.7" width="2.885" height="201.7" fill="#fcd34d"/>
<rect x="1254.56" y="819.3" width="2.885" height="201.1" fill="#fcd34d"/>
<rect x="1256.84" y="819.8" width="2.885" height="200.6" fill="#fcd34d"/>
<rect x="1259.13" y="820.4" width="2.885" height="200.0" fill="#fcd34d"/>
<rect x="1261.41" y="821.3" width="2.885" height="199.1" fill="#fcd34d"/>
<rect x="1263.70" y="822.3" width="2.885" height="198.1" fill="#f9a8d4"/>
<rect x="1265.98" y="823.0" width="2.885" height="197.4" fill="#f9a8d4"/>
<rect x="1268.27" y="823.5" width="2.885" height="196.9" fill="#fcd34d"/>
<rect x="1270.55" y="823.9" width="2.885" height="196.5" fill="#fcd34d"/>
<rect x="1272.84" y="825.0" width="2.885" height="195.4" fill="#fcd34d"/>
<rect x="1275.12" y="826.1" width="2.885" height="194.3" fill="#f9a8d4"/>
<rect x="1277.41" y="825.9" width="2.885" height="194.5" fill="#93c5fd"/>
<rect x="1279.69" y="825.4" width="2.885" height="195.0" fill="#93c5fd"/>
<rect x="1281.98" y="824.9" width="2.885" height="195.5" fill="#93c5fd"/>
<rect x="1284.26" y="824.4" width="2.885" height="196.0" fill="#93c5fd"/>
<rect x="1286.55" y="824.6" width="2.885" height="195.8" fill="#93c5fd"/>
<rect x="1288.83" y="827.8" width="2.885" height="192.6" fill="#93c5fd"/>
<rect x="1291.12" y="827.3" width="2.885" height="193.1" fill="#93c5fd"/>
<rect x="1293.40" y="826.9" width="2.885" height="193.5" fill="#93c5fd"/>
<rect x="1295.68" y="826.4" width="2.885" height="194.0" fill="#93c5fd"/>
<rect x="1297.97" y="825.9" width="2.885" height="194.5" fill="#93c5fd"/>
<rect x="1300.25" y="824.8" width="2.885" height="195.6" fill="#93c5fd"/>
<rect x="1302.54" y="823.6" width="2.885" height="196.8" fill="#93c5fd"/>
<rect x="1304.82" y="822.4" width="2.885" height="198.0" fill="#93c5fd"/>
<rect x="1307.11" y="821.2" width="2.885" height="199.2" fill="#93c5fd"/>
<rect x="1309.39" y="819.9" width="2.885" height="200.5" fill="#93c5fd"/>
<rect x="1311.68" y="818.4" width="2.885" height="202.0" fill="#93c5fd"/>
<rect x="1313.96" y="816.9" width="2.885" height="203.5" fill="#93c5fd"/>
<rect x="1316.25" y="815.2" width="2.885" height="205.2" fill="#93c5fd"/>
<rect x="1318.53" y="813.2" width="2.885" height="207.2" fill="#93c5fd"/>
<rect x="1320.82" y="811.3" width="2.885" height="209.1" fill="#93c5fd"/>
<rect x="1323.10" y="809.3" width="2.885" height="211.1" fill="#93c5fd"/>
<rect x="1325.39" y="809.3" width="2.885" height="211.1" fill="#93c5fd"/>
<rect x="1327.67" y="812.1" width="2.885" height="208.3" fill="#fcd34d"/>
<rect x="1329.96" y="813.8" width="2.885" height="206.6" fill="#93c5fd"/>
<rect x="1332.24" y="814.2" width="2.885" height="206.2" fill="#93c5fd"/>
<rect x="1334.53" y="814.6" width="2.885" height="205.8" fill="#fcd34d"/>
<rect x="1336.81" y="814.9" width="2.885" height="205.5" fill="#93c5fd"/>
<rect x="1339.09" y="815.2" width="2.885" height="205.2" fill="#93c5fd"/>
<rect x="1341.38" y="814.0" width="2.885" height="206.4" fill="#93c5fd"/>
<rect x="1343.66" y="812.9" width="2.885" height="207.5" fill="#93c5fd"/>
<rect x="1345.95" y="811.7" width="2.885" height="208.7" fill="#93c5fd"/>
<rect x="1348.23" y="810.6" width="2.885" height="209.8" fill="#93c5fd"/>
<rect x="1350.52" y="808.2" width="2.885" height="212.2" fill="#93c5fd"/>
<rect x="1352.80" y="804.6" width="2.885" height="215.8" fill="#93c5fd"/>
<rect x="1355.09" y="801.0" width="2.885" height="219.4" fill="#93c5fd"/>
<rect x="1357.37" y="797.6" width="2.885" height="222.8" fill="#93c5fd"/>
<rect x="1359.66" y="794.5" width="2.885" height="225.9" fill="#fcd34d"/>
<rect x="1361.94" y="791.4" width="2.885" height="229.0" fill="#93c5fd"/>
<rect x="1364.23" y="788.3" width="2.885" height="232.1" fill="#93c5fd"/>
<rect x="1366.51" y="785.3" width="2.885" height="235.1" fill="#93c5fd"/>
<rect x="1368.80" y="782.4" width="2.885" height="238.0" fill="#93c5fd"/>
<rect x="1371.08" y="779.4" width="2.885" height="241.0" fill="#93c5fd"/>
<rect x="1373.37" y="776.6" width="2.885" height="243.8" fill="#93c5fd"/>
<rect x="1375.65" y="774.1" width="2.885" height="246.3" fill="#93c5fd"/>
<rect x="1377.93" y="771.6" width="2.285" height="248.8" fill="#93c5fd"/>
<g fill="#fff" fill-opacity="0.22"><rect x="311.0" y="705.3" width="1" height="314.7"/><rect x="318.0" y="707.1" width="1" height="312.9"/><rect x="325.0" y="709.2" width="1" height="310.8"/><rect x="346.0" y="722.0" width="1" height="298.0"/><rect x="353.0" y="739.4" width="1" height="280.6"/><rect x="367.0" y="780.5" width="1" height="239.5"/><rect x="374.0" y="798.5" width="1" height="221.5"/><rect x="388.0" y="835.5" width="1" height="184.5"/><rect x="402.0" y="838.4" width="1" height="181.6"/><rect x="416.0" y="838.9" width="1" height="181.1"/><rect x="437.0" y="839.6" width="1" height="180.4"/><rect x="458.0" y="840.2" width="1" height="179.8"/><rect x="472.0" y="840.7" width="1" height="179.3"/><rect x="479.0" y="840.9" width="1" height="179.1"/><rect x="486.0" y="841.1" width="1" height="178.9"/><rect x="500.0" y="841.5" width="1" height="178.5"/><rect x="535.0" y="842.4" width="1" height="177.6"/><rect x="549.0" y="842.7" width="1" height="177.3"/><rect x="570.0" y="843.3" width="1" height="176.7"/><rect x="577.0" y="843.1" width="1" height="176.9"/><rect x="584.0" y="841.8" width="1" height="178.2"/><rect x="598.0" y="839.2" width="1" height="180.8"/><rect x="612.0" y="836.1" width="1" height="183.9"/><rect x="619.0" y="834.2" width="1" height="185.8"/><rect x="626.0" y="832.4" width="1" height="187.6"/><rect x="633.0" y="830.3" width="1" height="189.7"/><rect x="640.0" y="828.0" width="1" height="192.0"/><rect x="647.0" y="825.7" width="1" height="194.3"/><rect x="696.0" y="739.3" width="1" height="280.7"/><rect x="724.0" y="662.9" width="1" height="357.1"/><rect x="738.0" y="634.7" width="1" height="385.3"/><rect x="752.0" y="616.4" width="1" height="403.6"/><rect x="759.0" y="599.8" width="1" height="420.2"/><rect x="766.0" y="584.0" width="1" height="436.0"/><rect x="787.0" y="560.3" width="1" height="459.7"/><rect x="801.0" y="560.3" width="1" height="459.7"/><rect x="808.0" y="560.3" width="1" height="459.7"/><rect x="815.0" y="560.3" width="1" height="459.7"/><rect x="836.0" y="560.3" width="1" height="459.7"/><rect x="850.0" y="560.3" width="1" height="459.7"/><rect x="864.0" y="560.3" width="1" height="459.7"/><rect x="885.0" y="573.5" width="1" height="446.5"/><rect x="899.0" y="567.5" width="1" height="452.5"/><rect x="906.0" y="567.5" width="1" height="452.5"/><rect x="913.0" y="560.0" width="1" height="460.0"/><rect x="920.0" y="560.0" width="1" height="460.0"/><rect x="927.0" y="560.0" width="1" height="460.0"/><rect x="934.0" y="560.0" width="1" height="460.0"/><rect x="948.0" y="574.5" width="1" height="445.5"/><rect x="955.0" y="578.0" width="1" height="442.0"/><rect x="969.0" y="587.0" width="1" height="433.0"/><rect x="990.0" y="604.0" width="1" height="416.0"/><rect x="997.0" y="611.4" width="1" height="408.6"/><rect x="1004.0" y="614.6" width="1" height="405.4"/><rect x="1018.0" y="652.6" width="1" height="367.4"/><rect x="1025.0" y="672.5" width="1" height="347.5"/><rect x="1046.0" y="730.0" width="1" height="290.0"/><rect x="1053.0" y="743.8" width="1" height="276.2"/><rect x="1067.0" y="755.6" width="1" height="264.4"/><rect x="1074.0" y="761.7" width="1" height="258.3"/><rect x="1088.0" y="766.5" width="1" height="253.5"/><rect x="1095.0" y="769.1" width="1" height="250.9"/><rect x="1102.0" y="771.6" width="1" height="248.4"/><rect x="1109.0" y="773.7" width="1" height="246.3"/><rect x="1116.0" y="775.8" width="1" height="244.2"/><rect x="1123.0" y="777.9" width="1" height="242.1"/><rect x="1144.0" y="783.3" width="1" height="236.7"/><rect x="1158.0" y="786.5" width="1" height="233.5"/><rect x="1172.0" y="789.8" width="1" height="230.2"/><rect x="1193.0" y="795.0" width="1" height="225.0"/><rect x="1200.0" y="797.4" width="1" height="222.6"/><rect x="1221.0" y="808.0" width="1" height="212.0"/><rect x="1228.0" y="810.7" width="1" height="209.3"/><rect x="1235.0" y="812.0" width="1" height="208.0"/><rect x="1242.0" y="816.2" width="1" height="203.8"/><rect x="1249.0" y="819.6" width="1" height="200.4"/><rect x="1256.0" y="821.3" width="1" height="198.7"/><rect x="1263.0" y="823.5" width="1" height="196.5"/><rect x="1270.0" y="825.6" width="1" height="194.4"/><rect x="1277.0" y="828.2" width="1" height="191.8"/><rect x="1284.0" y="826.7" width="1" height="193.3"/><rect x="1298.0" y="828.2" width="1" height="191.8"/><rect x="1305.0" y="824.9" width="1" height="195.1"/><rect x="1319.0" y="815.8" width="1" height="204.2"/><rect x="1326.0" y="810.8" width="1" height="209.2"/><rect x="1340.0" y="817.3" width="1" height="202.7"/><rect x="1347.0" y="813.8" width="1" height="206.2"/><rect x="1354.0" y="806.5" width="1" height="213.5"/><rect x="1368.0" y="786.9" width="1" height="233.1"/><rect x="1375.0" y="778.1" width="1" height="241.9"/></g>
    </g>
    <rect x="499" y="839" width="1.2" height="182" fill="#fff"/>
<line x1="306.3" y1="541" x2="306.3" y2="702" stroke="#eceef1" stroke-width="3"/>
<line x1="306.3" y1="702" x2="306.3" y2="1020" stroke="#fff" stroke-opacity="0.3" stroke-width="3"/>
<rect x="304.8" y="541" width="3" height="5" fill="#7a7f8a"/>
<rect x="304.8" y="556" width="3" height="10" fill="#7a7f8a"/>
<rect x="304.8" y="576" width="3" height="10" fill="#7a7f8a"/>
<rect x="304.8" y="596" width="3" height="10" fill="#7a7f8a"/>
<rect x="304.8" y="616" width="3" height="10" fill="#7a7f8a"/>
<rect x="304.8" y="636" width="3" height="10" fill="#7a7f8a"/>
<rect x="304.8" y="656" width="3" height="10" fill="#7a7f8a"/>
<rect x="304.8" y="676" width="3" height="10" fill="#7a7f8a"/>
<rect x="304.8" y="696" width="3" height="6" fill="#7a7f8a"/>
<rect x="304.8" y="702" width="3" height="4" fill="#8b755e"/>
<rect x="304.8" y="716" width="3" height="10" fill="#8b755e"/>
<rect x="304.8" y="736" width="3" height="10" fill="#8b755e"/>
<rect x="304.8" y="756" width="3" height="10" fill="#8b755e"/>
<rect x="304.8" y="776" width="3" height="10" fill="#8b755e"/>
<rect x="304.8" y="796" width="3" height="10" fill="#8b755e"/>
<rect x="304.8" y="816" width="3" height="10" fill="#8b755e"/>
<rect x="304.8" y="836" width="3" height="10" fill="#8b755e"/>
<rect x="304.8" y="856" width="3" height="10" fill="#8b755e"/>
<rect x="304.8" y="876" width="3" height="10" fill="#8b755e"/>
<rect x="304.8" y="896" width="3" height="10" fill="#8b755e"/>
<rect x="304.8" y="916" width="3" height="10" fill="#8b755e"/>
<rect x="304.8" y="936" width="3" height="10" fill="#8b755e"/>
<rect x="304.8" y="956" width="3" height="10" fill="#8b755e"/>
<rect x="304.8" y="976" width="3" height="10" fill="#8b755e"/>
<rect x="304.8" y="996" width="3" height="10" fill="#8b755e"/>
<rect x="304.8" y="1016" width="3" height="4" fill="#8b755e"/>
<circle cx="306.3" cy="555.5" r="12.5" fill="rgb(85,90,100)" fill-opacity="0.55"/>
<rect x="304.8" y="556" width="3" height="10" fill="#4b5563"/>
<rect x="304.8" y="541" width="3" height="5" fill="#5a606b"/>
<line x1="828.5" y1="541" x2="828.5" y2="558.3" stroke="#eceef1" stroke-width="3"/>
<line x1="828.5" y1="558.3" x2="828.5" y2="1020" stroke="#fff" stroke-opacity="0.3" stroke-width="3"/>
<rect x="827.0" y="541" width="3" height="5" fill="#7a7f8a"/>
<rect x="827.0" y="556" width="3" height="2.2999999999999545" fill="#7a7f8a"/>
<rect x="827.0" y="558.3" width="3" height="7.7000000000000455" fill="#8b755e"/>
<rect x="827.0" y="576" width="3" height="10" fill="#8b755e"/>
<rect x="827.0" y="596" width="3" height="10" fill="#8b755e"/>
<rect x="827.0" y="616" width="3" height="10" fill="#8b755e"/>
<rect x="827.0" y="636" width="3" height="10" fill="#8b755e"/>
<rect x="827.0" y="656" width="3" height="10" fill="#8b755e"/>
<rect x="827.0" y="676" width="3" height="10" fill="#8b755e"/>
<rect x="827.0" y="696" width="3" height="10" fill="#8b755e"/>
<rect x="827.0" y="716" width="3" height="10" fill="#8b755e"/>
<rect x="827.0" y="736" width="3" height="10" fill="#8b755e"/>
<rect x="827.0" y="756" width="3" height="10" fill="#8b755e"/>
<rect x="827.0" y="776" width="3" height="10" fill="#8b755e"/>
<rect x="827.0" y="796" width="3" height="10" fill="#8b755e"/>
<rect x="827.0" y="816" width="3" height="10" fill="#8b755e"/>
<rect x="827.0" y="836" width="3" height="10" fill="#8b755e"/>
<rect x="827.0" y="856" width="3" height="10" fill="#8b755e"/>
<rect x="827.0" y="876" width="3" height="10" fill="#8b755e"/>
<rect x="827.0" y="896" width="3" height="10" fill="#8b755e"/>
<rect x="827.0" y="916" width="3" height="10" fill="#8b755e"/>
<rect x="827.0" y="936" width="3" height="10" fill="#8b755e"/>
<rect x="827.0" y="956" width="3" height="10" fill="#8b755e"/>
<rect x="827.0" y="976" width="3" height="10" fill="#8b755e"/>
<rect x="827.0" y="996" width="3" height="10" fill="#8b755e"/>
<rect x="827.0" y="1016" width="3" height="4" fill="#8b755e"/>
<circle cx="828.5" cy="555.5" r="12.5" fill="rgb(85,90,100)" fill-opacity="0.55"/>
<rect x="827.0" y="556" width="3" height="10" fill="#4b5563"/>
<rect x="827.0" y="541" width="3" height="5" fill="#5a606b"/>
<line x1="965.7" y1="541" x2="965.7" y2="582.9773333333334" stroke="#eceef1" stroke-width="3"/>
<line x1="965.7" y1="582.9773333333334" x2="965.7" y2="1020" stroke="#fff" stroke-opacity="0.3" stroke-width="3"/>
<rect x="964.2" y="541" width="3" height="5" fill="#7a7f8a"/>
<rect x="964.2" y="556" width="3" height="10" fill="#7a7f8a"/>
<rect x="964.2" y="576" width="3" height="6.977333333333377" fill="#7a7f8a"/>
<rect x="964.2" y="582.9773333333334" width="3" height="3.0226666666666233" fill="#8b755e"/>
<rect x="964.2" y="596" width="3" height="10" fill="#8b755e"/>
<rect x="964.2" y="616" width="3" height="10" fill="#8b755e"/>
<rect x="964.2" y="636" width="3" height="10" fill="#8b755e"/>
<rect x="964.2" y="656" width="3" height="10" fill="#8b755e"/>
<rect x="964.2" y="676" width="3" height="10" fill="#8b755e"/>
<rect x="964.2" y="696" width="3" height="10" fill="#8b755e"/>
<rect x="964.2" y="716" width="3" height="10" fill="#8b755e"/>
<rect x="964.2" y="736" width="3" height="10" fill="#8b755e"/>
<rect x="964.2" y="756" width="3" height="10" fill="#8b755e"/>
<rect x="964.2" y="776" width="3" height="10" fill="#8b755e"/>
<rect x="964.2" y="796" width="3" height="10" fill="#8b755e"/>
<rect x="964.2" y="816" width="3" height="10" fill="#8b755e"/>
<rect x="964.2" y="836" width="3" height="10" fill="#8b755e"/>
<rect x="964.2" y="856" width="3" height="10" fill="#8b755e"/>
<rect x="964.2" y="876" width="3" height="10" fill="#8b755e"/>
<rect x="964.2" y="896" width="3" height="10" fill="#8b755e"/>
<rect x="964.2" y="916" width="3" height="10" fill="#8b755e"/>
<rect x="964.2" y="936" width="3" height="10" fill="#8b755e"/>
<rect x="964.2" y="956" width="3" height="10" fill="#8b755e"/>
<rect x="964.2" y="976" width="3" height="10" fill="#8b755e"/>
<rect x="964.2" y="996" width="3" height="10" fill="#8b755e"/>
<rect x="964.2" y="1016" width="3" height="4" fill="#8b755e"/>
<circle cx="965.7" cy="555.5" r="12.5" fill="rgb(85,90,100)" fill-opacity="0.55"/>
<rect x="964.2" y="556" width="3" height="10" fill="#4b5563"/>
<rect x="964.2" y="541" width="3" height="5" fill="#5a606b"/>
  </svg>
  <div class="abs xl" style="left:610px">Thu</div>
  <div class="abs xl" style="left:947.5px">Fri</div>
  <div class="abs xl" style="left:1277.5px">Fri</div>

  <div class="abs sw" style="left:337px;background:#93c5fd"></div>
  <div class="abs leg" style="left:378px">Charging</div>
  <div class="abs sw" style="left:567px;background:#fcd34d"></div>
  <div class="abs leg" style="left:606px">Discharging</div>
  <div class="abs sw" style="left:844px;background:#f9a8d4"></div>
  <div class="abs leg" style="left:882px">Idle</div>
</div></div>
</body></html>
